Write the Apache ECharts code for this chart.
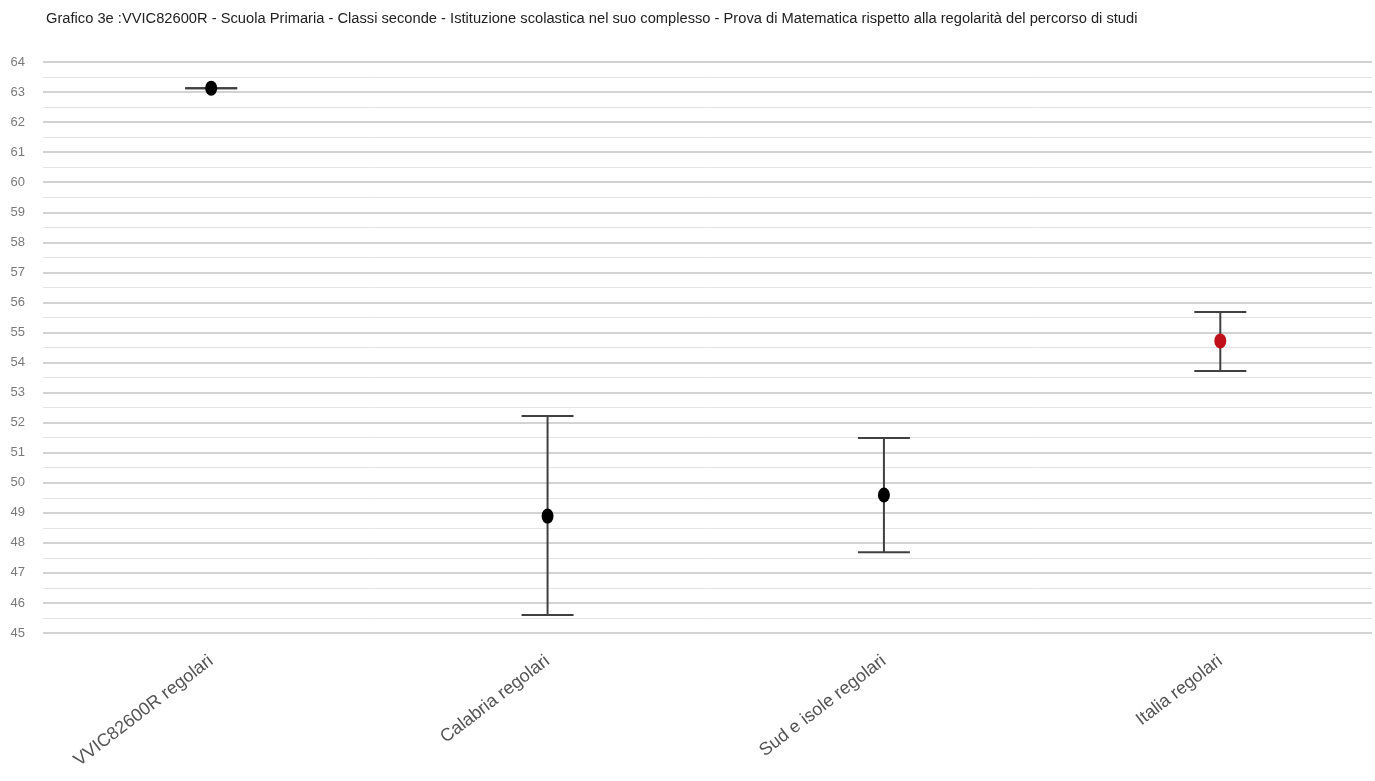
<!DOCTYPE html>
<html>
<head>
<meta charset="utf-8">
<script src="https://cdn.jsdelivr.net/npm/echarts@6/dist/echarts.min.js"></script>
<style>
html,body{margin:0;padding:0;background:#fff;overflow:hidden;}
#chart{width:1375px;height:781px;}
</style>
</head>
<body>
<div id="chart"></div>
<script>
const titleText = "Grafico 3e :VVIC82600R - Scuola Primaria - Classi seconde - Istituzione scolastica nel suo complesso - Prova di Matematica rispetto alla regolarità del percorso di studi";
const categories = ["VVIC82600R regolari", "Calabria regolari", "Sud e isole regolari", "Italia regolari"];
const means = [63.13, 48.89, 49.59, 54.72];
const lows  = [63.13, 45.60, 47.69, 53.72];
const highs = [63.13, 52.22, 51.49, 55.68];
const yMin = 45, yMax = 64, yStep = 1;

const FONT = "'Liberation Sans Narrow', 'Arial Narrow', 'Liberation Sans', Arial, sans-serif";
const pointColors = ["#000000", "#000000", "#000000", "#c0101a"];
const catIdx = categories.map((c, i) => i);

const chart = echarts.init(document.getElementById('chart'), null, {renderer: 'canvas'});
chart.setOption({
  backgroundColor: '#ffffff',
  animation: false,
  title: {
    text: titleText,
    left: 41, top: 6,
    textStyle: {fontFamily: FONT, fontSize: 14.7, fontWeight: 'normal', color: '#222'}
  },
  grid: {left: 43, right: 3, top: 62, bottom: 148, containLabel: false},
  xAxis: {
    type: 'value',
    min: -0.5, max: 3.451,
    axisLine: {show: false},
    axisTick: {show: false},
    splitLine: {show: false},
    axisLabel: {
      customValues: catIdx,
      formatter: function (v) { return categories[Math.round(v)] || ''; },
      rotate: 37.5, margin: 26,
      fontFamily: FONT, fontSize: 18, color: '#555'
    }
  },
  yAxis: {
    type: 'value',
    min: yMin, max: yMax, interval: yStep,
    axisLine: {show: false},
    axisTick: {show: false},
    axisLabel: {fontFamily: FONT, fontSize: 13, color: '#7a7a7a', margin: 18},
    splitLine: {show: true, lineStyle: {color: '#c4c4c4', width: 1.6}},
    minorTick: {show: false, splitNumber: 2},
    minorSplitLine: {show: true, lineStyle: {color: '#e4e4e4', width: 1}}
  },
  series: [
    {
      type: 'custom',
      name: 'err',
      data: catIdx.map(i => [i, lows[i], highs[i]]),
      renderItem: function (params, api) {
        const x = api.value(0);
        const lo = api.coord([x, api.value(1)]);
        const hi = api.coord([x, api.value(2)]);
        const hw = 26;
        const style = {stroke: '#404040', lineWidth: 2};
        return {
          type: 'group',
          children: [
            {type: 'line', shape: {x1: hi[0], y1: hi[1], x2: lo[0], y2: lo[1]}, style: style},
            {type: 'line', shape: {x1: hi[0] - hw, y1: hi[1], x2: hi[0] + hw, y2: hi[1]}, style: style},
            {type: 'line', shape: {x1: lo[0] - hw, y1: lo[1], x2: lo[0] + hw, y2: lo[1]}, style: style}
          ]
        };
      },
      z: 2
    },
    {
      type: 'scatter',
      data: means.map((v, i) => ({value: [i, v], itemStyle: {color: pointColors[i], opacity: 1}})),
      symbol: 'circle',
      symbolSize: [12, 15],
      z: 3
    }
  ]
});
</script>
</body>
</html>
